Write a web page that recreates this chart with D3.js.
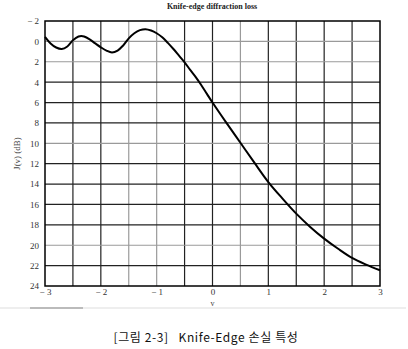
<!DOCTYPE html>
<html>
<head>
<meta charset="utf-8">
<script src="https://cdn.jsdelivr.net/npm/d3@7"></script>
<style>
  body { margin: 0; background: #fff; }
  svg { display: block; }
</style>
</head>
<body>
<div id="chart"></div>
<script>
// values
const vValues = [-3.0, -2.9, -2.8, -2.7, -2.6, -2.5, -2.4, -2.35, -2.3, -2.2, -2.1, -2.0, -1.9, -1.8, -1.7, -1.6, -1.5, -1.4, -1.3, -1.2, -1.1, -1.0, -0.9, -0.8, -0.7, -0.6, -0.5, -0.4, -0.3, -0.2, -0.1, 0, 0.25, 0.5, 0.75, 1.0, 1.25, 1.5, 1.75, 2.0, 2.25, 2.5, 2.75, 3.0];
const lossValues = [-0.45, 0.2, 0.6, 0.75, 0.5, -0.1, -0.48, -0.52, -0.48, -0.2, 0.2, 0.58, 0.9, 1.08, 0.9, 0.4, -0.3, -0.8, -1.1, -1.2, -1.07, -0.8, -0.4, 0.15, 0.75, 1.4, 2.05, 2.8, 3.5, 4.3, 5.15, 6.0, 8.0, 9.95, 11.9, 13.8, 15.4, 16.9, 18.2, 19.35, 20.35, 21.25, 21.9, 22.45];
const xTicks = [-3, -2, -1, 0, 1, 2, 3];
const yTicks = [-2, 0, 2, 4, 6, 8, 10, 12, 14, 16, 18, 20, 22, 24];
const xGrid = [-2.5, -2, -1.5, -1, -0.5, 0, 0.5, 1, 1.5, 2, 2.5];
const lightX = [-1.5, -1, 0.5];
const lightY = [0, 2, 10, 20];

const margin = {top: 21, right: 28, bottom: 63, left: 45},
    W = 408, H = 349,
    width = W - margin.left - margin.right,
    height = H - margin.top - margin.bottom;

const svg = d3.select("#chart").append("svg")
    .attr("width", W)
    .attr("height", H);

const g = svg.append("g")
    .attr("transform", `translate(${margin.left},${margin.top})`);

const x = d3.scaleLinear().domain([-3, 3]).range([0, width]);
const y = d3.scaleLinear().domain([-2, 24]).range([0, height]);

const fmt = d => d < 0 ? "\u2212 " + Math.abs(d) : String(d);

// grid
g.append("g").selectAll("line")
  .data(xGrid)
  .join("line")
    .attr("x1", d => x(d)).attr("x2", d => x(d))
    .attr("y1", 0).attr("y2", height)
    .attr("stroke", d => lightX.includes(d) ? "#9a9a9a" : "#222")
    .attr("stroke-width", 1.2);

g.append("g").selectAll("line")
  .data(yTicks.slice(1, -1))
  .join("line")
    .attr("x1", 0).attr("x2", width)
    .attr("y1", d => y(d)).attr("y2", d => y(d))
    .attr("stroke", d => lightY.includes(d) ? "#9a9a9a" : "#222")
    .attr("stroke-width", 1.2);

g.append("rect")
  .attr("width", width).attr("height", height)
  .attr("fill", "none").attr("stroke", "#000").attr("stroke-width", 1.5);

// axes (labels only)
const yAxis = g.append("g")
  .call(d3.axisLeft(y).tickValues(yTicks).tickSize(0).tickPadding(6).tickFormat(fmt));
yAxis.select(".domain").remove();
yAxis.selectAll("text")
  .attr("font-family", "Liberation Serif, serif").attr("font-size", 9).attr("fill", "#333");

const xAxis = g.append("g")
  .attr("transform", `translate(0,${height})`)
  .call(d3.axisBottom(x).tickValues(xTicks).tickSize(0).tickPadding(3).tickFormat(fmt));
xAxis.select(".domain").remove();
xAxis.selectAll("text")
  .attr("font-family", "Liberation Serif, serif").attr("font-size", 9).attr("fill", "#333");

// curve
const pts = vValues.map((v, i) => [v, lossValues[i]]);
g.append("path")
  .datum(pts)
  .attr("fill", "none")
  .attr("stroke", "#000")
  .attr("stroke-width", 2)
  .attr("d", d3.line().x(d => x(d[0])).y(d => y(d[1])).curve(d3.curveCatmullRom));

// titles
svg.append("text")
  .attr("x", 212).attr("y", 9)
  .attr("text-anchor", "middle")
  .attr("font-family", "Liberation Serif, serif")
  .attr("font-weight", "bold").attr("font-size", 8)
  .attr("fill", "#222")
  .text("Knife-edge diffraction loss");

svg.append("text")
  .attr("x", margin.left + width / 2).attr("y", height + margin.top + 20)
  .attr("text-anchor", "middle")
  .attr("font-family", "Liberation Serif, serif").attr("font-size", 8).attr("fill", "#444")
  .text("v");

svg.append("text")
  .attr("transform", `translate(20,${margin.top + height / 2}) rotate(-90)`)
  .attr("text-anchor", "middle")
  .attr("font-family", "Liberation Serif, serif").attr("font-size", 9).attr("fill", "#444")
  .text("J(v) (dB)");

// faint rule under the chart
svg.append("line")
  .attr("x1", 0).attr("x2", 406).attr("y1", 308).attr("y2", 308)
  .attr("stroke", "#ddd").attr("stroke-width", 1);
svg.append("line")
  .attr("x1", 30).attr("x2", 83).attr("y1", 308).attr("y2", 308)
  .attr("stroke", "#888").attr("stroke-width", 1);

// caption
svg.append("text")
  .attr("x", 206).attr("y", 342)
  .attr("text-anchor", "middle")
  .attr("font-family", "Noto Sans CJK KR, sans-serif").attr("font-size", 12)
  .attr("letter-spacing", 0.6)
  .attr("fill", "#111")
  .attr("xml:space", "preserve")
  .text("[그림 2-3]   Knife-Edge 손실 특성");
</script>
</body>
</html>
